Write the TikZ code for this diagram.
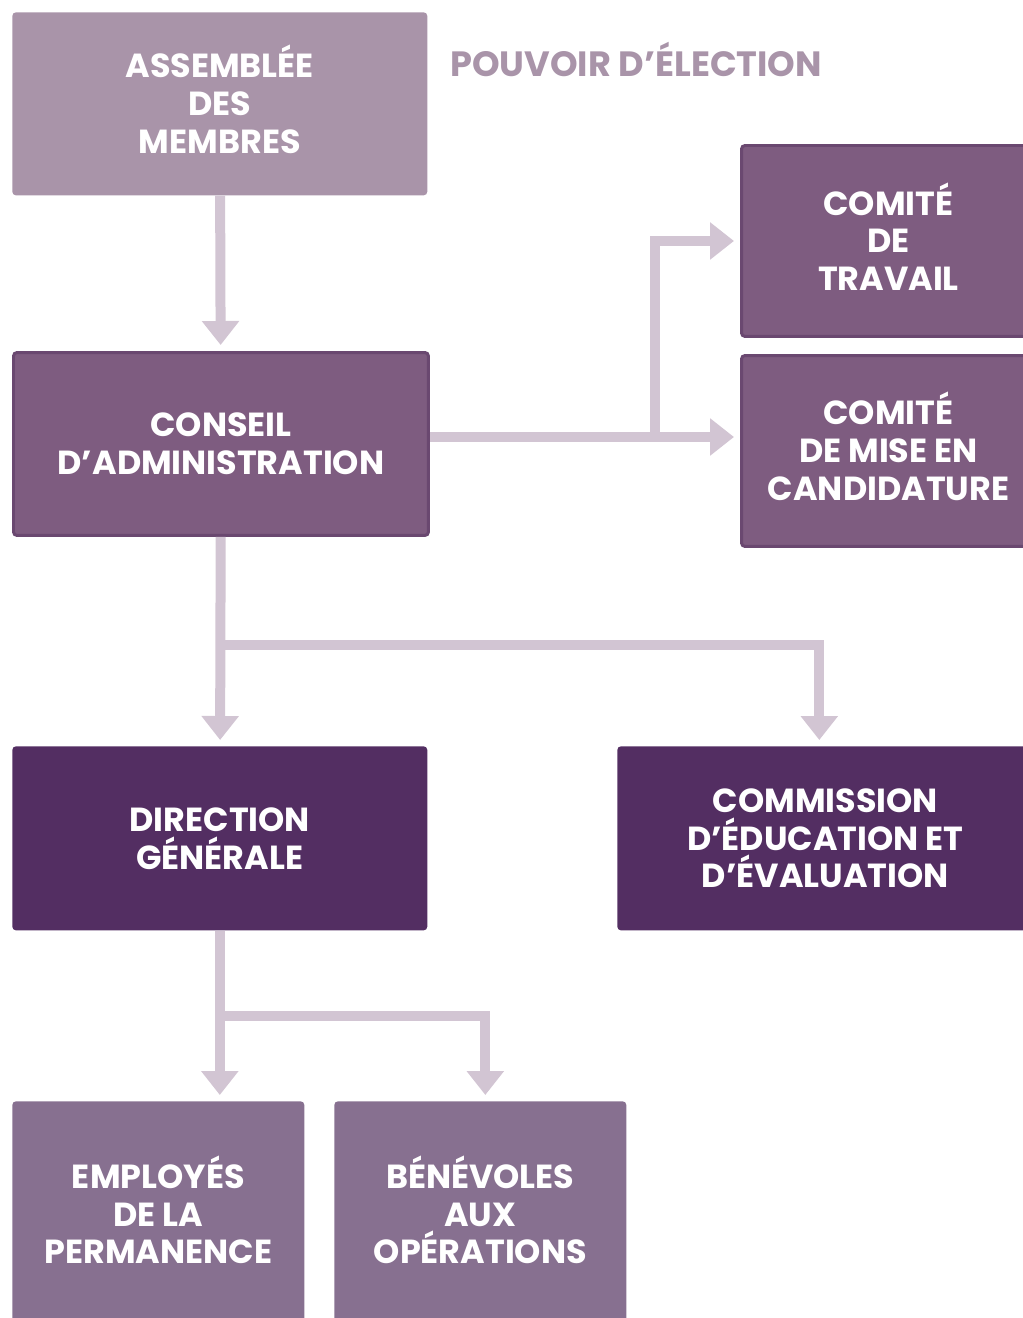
\documentclass[tikz,border=0pt]{standalone}
\usepackage{fontspec}
\setmainfont{Poppins}
\usepackage{xcolor}
\usetikzlibrary{arrows.meta, positioning}

\definecolor{palemauve}{HTML}{A994A9}
\definecolor{midmauve}{HTML}{7E5C80}
\definecolor{mauveedge}{HTML}{6A4870}
\definecolor{deepmauve}{HTML}{532E62}
\definecolor{greymauve}{HTML}{877090}
\definecolor{arrowmauve}{HTML}{D2C5D3}

% accent that does not push the first line down
\newcommand{\flatE}{\smash{É}}

\tikzset{
    box/.style={rectangle, rounded corners=2pt, text=white, inner sep=0pt,
        anchor=north west, align=center,
        font=\bfseries\fontsize{19}{21.5}\selectfont},
    boxedge/.style={box, draw=mauveedge, line width=0.06cm},
    flow/.style={draw=arrowmauve, line width=0.2cm,
        -{Triangle[width=0.72cm, length=0.48cm]}, shorten >=0.12cm},
    heading/.style={text=palemauve, anchor=west, inner sep=0pt,
        font=\bfseries\fontsize{20}{22}\selectfont}
}

\begin{document}
\begin{tikzpicture}[x=0.02cm, y=-0.02cm]
    \useasboundingbox (0,0) rectangle (1023,1318);
    \clip (0,0) rectangle (1023,1318);

    % boxes
    \node[box, fill=palemauve, minimum width=8.3cm, minimum height=3.66cm] (am) at (12,12) {ASSEMBL\flatE E\\DES\\MEMBRES};
    \node[boxedge, fill=midmauve, minimum width=8.3cm, minimum height=3.66cm] (ca) at (12,351) {CONSEIL\\D’ADMINISTRATION};
    \node[boxedge, fill=midmauve, minimum width=5.88cm, minimum height=3.82cm] (ct) at (740,144) {COMIT\flatE\\DE\\TRAVAIL};
    \node[boxedge, fill=midmauve, minimum width=5.88cm, minimum height=3.82cm] (cmc) at (740,354) {COMIT\flatE\\DE MISE EN\\CANDIDATURE};
    \node[box, fill=deepmauve, minimum width=8.3cm, minimum height=3.68cm] (dg) at (12,746) {DIRECTION\\GÉNÉRALE};
    \node[box, fill=deepmauve, minimum width=8.32cm, minimum height=3.68cm] (cee) at (617,746) {COMMISSION\\D’ÉDUCATION ET\\D’ÉVALUATION};
    \node[box, fill=greymauve, minimum width=5.84cm, minimum height=4.52cm] (ep) at (12,1101) {EMPLOY\flatE S\\DE LA\\PERMANENCE};
    \node[box, fill=greymauve, minimum width=5.84cm, minimum height=4.52cm] (bo) at (334,1101) {B\flatE N\flatE VOLES\\AUX\\OPÉRATIONS};

    \node[heading] (pouvoir) at (450,59) {POUVOIR D’ÉLECTION};

    % connectors
    \coordinate (j1) at (655,437);
    \coordinate (j2) at (219.5,645);
    \coordinate (j3) at (219.5,1016);

    \draw[flow] (am) -- (ca);
    \draw[flow] (ca.east |- j1) -- (cmc.west |- j1);
    \draw[flow] (j1) |- (ct.west);
    \draw[flow] (ca) -- (dg);
    \draw[flow] (j2) -| ([xshift=-0.12cm]cee.north);
    \draw[flow] (dg) -- (dg.south |- ep.north);
    \draw[flow] (j3) -| ([xshift=0.1cm]bo.north);
\end{tikzpicture}
\end{document}
